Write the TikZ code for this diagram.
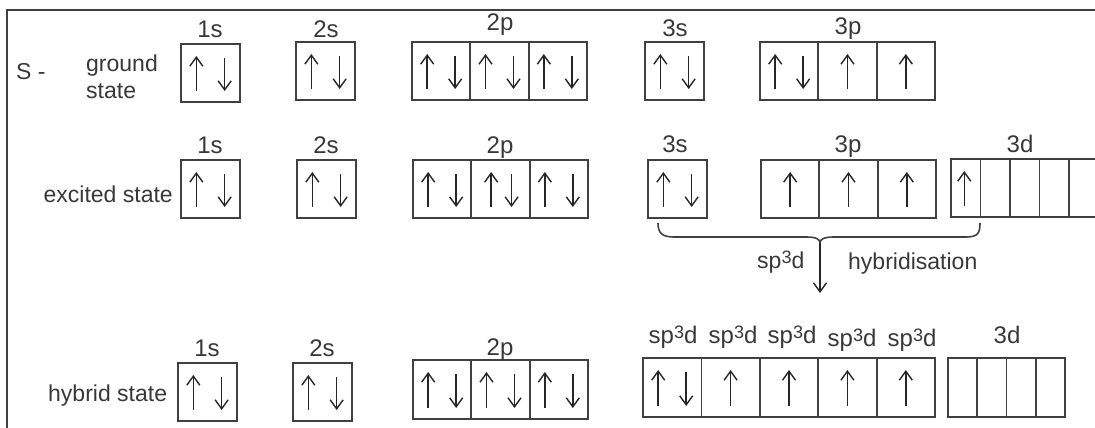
\documentclass[tikz,border=0pt]{standalone}
\usepackage{fontspec}
\setmainfont{Liberation Sans}
\usetikzlibrary{arrows.meta,calc}
\definecolor{ink}{HTML}{383838}
\definecolor{boxc}{HTML}{404040}
\definecolor{spinc}{HTML}{262626}
\tikzset{
  cell/.style={draw=boxc, line width=1.8pt, inner sep=0pt, outer sep=0pt, rectangle},
  spin/.style={draw=spinc, line width=1.5pt, -{Straight Barb[length=9pt,width=13pt,line width=1.4pt]}},
  lab/.style={text=ink, inner sep=0pt, anchor=base, font=\fontsize{24}{28}\selectfont},
  lbl/.style={text=ink, inner sep=0pt, anchor=base west, font=\fontsize{23}{27}\selectfont},
  frame/.style={draw=boxc, line width=2.2pt},
  bracel/.style={draw=boxc, line width=1.6pt}
}
\newcommand\cellrow[6]{% prefix, xleft, ytop, cellwidth, height, count
  \foreach \i in {1,...,#6}{%
    \node[cell, minimum width=#4pt, minimum height=#5pt] (#1\i) at ({#2+(\i-0.5)*#4},{#3+#5/2}) {};}}
\newcommand\spinU[2]{\draw[spin] ($(#1.south west)!#2!(#1.south east)+(0,-11)$) -- ($(#1.north west)!#2!(#1.north east)+(0,12)$);}
\newcommand\spinD[2]{\draw[spin] ($(#1.north west)!#2!(#1.north east)+(0,14)$) -- ($(#1.south west)!#2!(#1.south east)+(0,-11)$);}
\newcommand\pair[1]{\spinU{#1}{0.26}\spinD{#1}{0.74}}
\newcommand\spd{sp\raisebox{5pt}{\fontsize{18}{18}\selectfont 3}d}
\begin{document}
\begin{tikzpicture}[x=1pt,y=-1pt]
\useasboundingbox (0,0) rectangle (1095,428);
\clip (0,0) rectangle (1095,428);
\draw[frame] (1100,10) -- (7,10) -- (7,435);
% ---- ground state
\node[lbl] (tS) at (16,80) {S -};
\node[lbl] (tg1) at (86,72) {ground};
\node[lbl] (tg2) at (86,98) {state};
\cellrow{gs1}{181}{44}{59}{58}{1}
\cellrow{gs2}{296}{42}{59}{58}{1}
\cellrow{gp2}{412}{42}{58.33}{58}{3}
\cellrow{gs3}{645}{42}{59}{58}{1}
\cellrow{gp3}{760}{42}{58.33}{58}{3}
\node[lab] (lg1) at (210,38) {1s};
\node[lab] (lg2) at (326,38) {2s};
\node[lab] (lg3) at (500,31) {2p};
\node[lab] (lg4) at (675,37) {3s};
\node[lab] (lg5) at (848,35) {3p};
\pair{gs11}\pair{gs21}\pair{gp21}\pair{gp22}\pair{gp23}\pair{gs31}\pair{gp31}
\spinU{gp32}{0.5}\spinU{gp33}{0.5}
% ---- excited state
\node[lbl, anchor=base east] (te) at (173,202) {excited state};
\cellrow{es1}{181}{160}{59}{58}{1}
\cellrow{es2}{297}{160}{59}{58}{1}
\cellrow{ep2}{413}{160}{58.33}{58}{3}
\cellrow{es3}{648}{160}{59}{58}{1}
\cellrow{ep3}{761}{160}{58.33}{58}{3}
\cellrow{ed3}{951}{159}{29.5}{58}{5}
\node[lab] (le1) at (210,153) {1s};
\node[lab] (le2) at (326,153) {2s};
\node[lab] (le3) at (500,153) {2p};
\node[lab] (le4) at (675,152) {3s};
\node[lab] (le5) at (848,152) {3p};
\node[lab] (le6) at (1020,152) {3d};
\pair{es11}\pair{es21}\pair{ep21}\pair{ep23}\pair{es31}
\spinU{ep22}{0.34}\spinD{ep22}{0.69}
\spinU{ep31}{0.5}\spinU{ep32}{0.5}\spinU{ep33}{0.5}
\spinU{ed31}{0.45}
% ---- brace and arrow
\coordinate (bL) at (658,223);
\coordinate (bR) at (980,223);
\coordinate (bT) at (820,243);
\coordinate (aE) at (820,293);
\draw[bracel] (bL) .. controls (658,233) and (662,237) .. (674,237) -- (806,237)
  .. controls (816,237) and (820,239) .. (bT)
  .. controls (820,239) and (824,237) .. (834,237) -- (966,237)
  .. controls (978,237) and (980,233) .. (bR);
\draw[spin] (bT) -- (aE);
\node[lbl] (ts) at (757,268) {\spd};
\node[lbl] (th) at (848,269) {hybridisation};
% ---- hybrid state
\node[lbl] (th2) at (48,401) {hybrid state};
\cellrow{hs1}{178}{363}{59}{58}{1}
\cellrow{hs2}{293}{363}{59}{58}{1}
\cellrow{hp2}{413}{360}{58.33}{59}{3}
\cellrow{hh}{643}{358}{58.4}{59}{5}
\cellrow{hd}{948}{358}{29.25}{59}{4}
\node[lab] (lh1) at (207,356) {1s};
\node[lab] (lh2) at (322,356) {2s};
\node[lab] (lh3) at (500,355) {2p};
\node[lab] (lh4) at (673,343) {\spd};
\node[lab] (lh5) at (733,343) {\spd};
\node[lab] (lh6) at (792,343) {\spd};
\node[lab] (lh7) at (852,346) {\spd};
\node[lab] (lh8) at (912,346) {\spd};
\node[lab] (lh9) at (1007,343) {3d};
\pair{hs11}\pair{hs21}\pair{hp21}\pair{hp22}\pair{hp23}\pair{hh1}
\spinU{hh2}{0.5}\spinU{hh3}{0.5}\spinU{hh4}{0.5}\spinU{hh5}{0.5}
\end{tikzpicture}
\end{document}
